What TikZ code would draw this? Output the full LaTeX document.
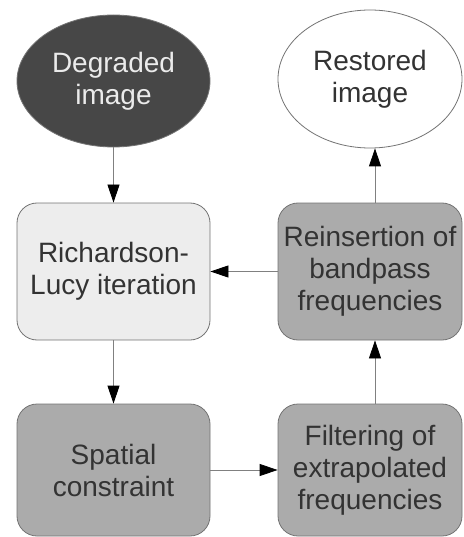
\documentclass[tikz,border=0pt]{standalone}
\usepackage{fontspec}
\setmainfont{Liberation Sans}
\usetikzlibrary{arrows.meta, shapes.geometric, positioning}

\begin{document}
\begin{tikzpicture}[
  x=1pt, y=-1pt,
  txt/.style={align=center, font=\fontsize{28}{32}\selectfont, text=black!80, inner sep=0pt},
  oval/.style={txt, ellipse, draw=black!55, line width=0.8pt},
  blk/.style={txt, rectangle, rounded corners=20pt, draw=black!55, line width=0.8pt, fill=black!33},
  link/.style={draw=black!50, line width=0.8pt, -{Triangle[length=18pt, width=12pt, black]}}
  ]
  \useasboundingbox (0,0) rectangle (463,537);
  % ellipses
  \node[oval, fill=black!72, text=black!8, minimum width=193pt, minimum height=132pt] (deg) at (113.5,81) {Degraded\\image};
  \node[oval, fill=white, minimum width=184pt, minimum height=138pt] (rest) at (370,79) {Restored\\image};
  % boxes
  \node[blk, fill=black!7, minimum width=193pt, minimum height=137pt] (rich) at (113.5,271.5) {Richardson-\\Lucy iteration};
  \node[blk, minimum width=184pt, minimum height=137pt] (reins) at (370,271.5) {Reinsertion of\\bandpass\\frequencies};
  \node[blk, minimum width=193pt, minimum height=132pt] (spat) at (113.5,470) {Spatial\\constraint};
  \node[blk, minimum width=184pt, minimum height=132pt] (filt) at (370,470) {Filtering of\\extrapolated\\frequencies};
  % arrows
  \draw[link] (deg) -- (rich);
  \draw[link] (rich) -- (spat);
  \draw[link] (spat) -- (filt);
  \draw[link] ([xshift=5pt]filt.north) -- ([xshift=5pt]reins.south);
  \draw[link] (reins) -- (rich);
  \draw[link] ([xshift=5pt]reins.north) -- ([xshift=5pt]rest.south);
\end{tikzpicture}
\end{document}
